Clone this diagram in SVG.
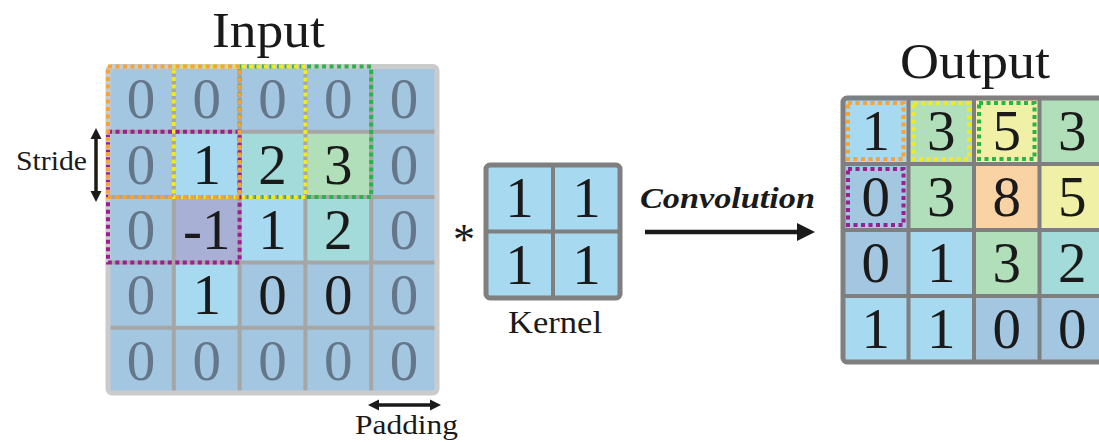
<svg xmlns="http://www.w3.org/2000/svg" width="1099" height="442" viewBox="0 0 1099 442">
  <style>
    .pad { fill: #a3c6e1; }
    .lb { fill: #a7d9f1; }
    .teal { fill: #a2dbd9; }
    .grn { fill: #b1dfba; }
    .lav { fill: #a8b0d5; }
    .yel { fill: #f0f0a6; }
    .org { fill: #f9d3a3; }
    .num { font-family: "Liberation Serif", "DejaVu Serif", serif; font-size: 57px; text-anchor: middle; fill: #1a1a1a; }
    .num.pz { fill: #647688; }
    .lbl { font-family: "Liberation Serif", "DejaVu Serif", serif; fill: #1a1a1a; }
    .in-grid { stroke: #a6a6a6; stroke-width: 4; fill: none; }
    .dark-grid { stroke: #7f7f7f; stroke-width: 4; fill: none; }
    .dot { fill: none; stroke-width: 4; stroke-dasharray: 4 3.5; }
    .d-org { stroke: #f7a338; }
    .d-yel { stroke: #f2e91e; }
    .d-grn { stroke: #2bb24c; }
    .d-pur { stroke: #9a1f8f; }
    .arrow { stroke: #1a1a1a; fill: none; }
  </style>
  <defs>
    <marker id="headSmall" viewBox="0 0 10 10" refX="0" refY="5" markerWidth="11" markerHeight="13" markerUnits="userSpaceOnUse" orient="auto-start-reverse">
      <path d="M0,0 L10,5 L0,10 z" fill="#1a1a1a"/>
    </marker>
    <marker id="headLarge" viewBox="0 0 10 10" refX="0" refY="5" markerWidth="18" markerHeight="20" markerUnits="userSpaceOnUse" orient="auto">
      <path d="M0,0 L10,5 L0,10 z" fill="#1a1a1a"/>
    </marker>
  </defs>

  <!-- Input matrix with zero padding -->
  <g id="input">
    <text class="lbl" x="212" y="47" font-size="50" textLength="113" lengthAdjust="spacingAndGlyphs">Input</text>
    <g id="input-cells">
      <rect class="pad" x="108" y="66.5" width="329" height="326.5"/>
      <rect class="lb" x="173.8" y="131.8" width="65.8" height="65.3"/>
      <rect class="teal" x="239.6" y="131.8" width="65.8" height="65.3"/>
      <rect class="grn" x="305.4" y="131.8" width="65.8" height="65.3"/>
      <rect class="lav" x="173.8" y="197.1" width="65.8" height="65.3"/>
      <rect class="lb" x="239.6" y="197.1" width="65.8" height="65.3"/>
      <rect class="teal" x="305.4" y="197.1" width="65.8" height="65.3"/>
      <rect class="lb" x="173.8" y="262.4" width="65.8" height="65.3"/>
    </g>
    <path class="in-grid" d="M173.8,66.5 V393 M239.6,66.5 V393 M305.4,66.5 V393 M371.2,66.5 V393 M108,131.8 H437 M108,197.1 H437 M108,262.4 H437 M108,327.7 H437"/>
    <rect x="108" y="66.5" width="329" height="326.5" rx="4" fill="none" stroke="#cbcbcb" stroke-width="5"/>
    <g id="input-values">
      <text class="num pz" x="140.9" y="118">0</text>
      <text class="num pz" x="206.7" y="118">0</text>
      <text class="num pz" x="272.5" y="118">0</text>
      <text class="num pz" x="338.3" y="118">0</text>
      <text class="num pz" x="404.1" y="118">0</text>

      <text class="num pz" x="140.9" y="183.5">0</text>
      <text class="num" x="206.7" y="183.5">1</text>
      <text class="num" x="272.5" y="183.5">2</text>
      <text class="num" x="338.3" y="183.5">3</text>
      <text class="num pz" x="404.1" y="183.5">0</text>

      <text class="num pz" x="140.9" y="249">0</text>
      <text class="num" x="206.7" y="249">-1</text>
      <text class="num" x="272.5" y="249">1</text>
      <text class="num" x="338.3" y="249">2</text>
      <text class="num pz" x="404.1" y="249">0</text>

      <text class="num pz" x="140.9" y="314">0</text>
      <text class="num" x="206.7" y="314">1</text>
      <text class="num" x="272.5" y="314">0</text>
      <text class="num" x="338.3" y="314">0</text>
      <text class="num pz" x="404.1" y="314">0</text>

      <text class="num pz" x="140.9" y="379.5">0</text>
      <text class="num pz" x="206.7" y="379.5">0</text>
      <text class="num pz" x="272.5" y="379.5">0</text>
      <text class="num pz" x="338.3" y="379.5">0</text>
      <text class="num pz" x="404.1" y="379.5">0</text>
    </g>
    <!-- receptive-field windows (2x2, stride 1) -->
    <rect class="dot d-grn" x="239.6" y="66.5" width="131.6" height="130.6"/>
    <rect class="dot d-yel" x="173.8" y="66.5" width="131.6" height="130.6"/>
    <rect class="dot d-pur" x="108" y="131.8" width="131.6" height="130.6"/>
    <rect class="dot d-org" x="108" y="66.5" width="131.6" height="130.6"/>
  </g>

  <!-- Kernel -->
  <g id="kernel">
    <text class="lbl" x="453" y="254" font-size="44">*</text>
    <rect class="lb" x="486" y="165" width="134" height="133" rx="4"/>
    <path class="dark-grid" d="M553,165 V298 M486,231.5 H620"/>
    <rect x="486" y="165" width="134" height="133" rx="4" fill="none" stroke="#7f7f7f" stroke-width="5"/>
    <text class="num" x="519.5" y="217">1</text>
    <text class="num" x="586.5" y="217">1</text>
    <text class="num" x="519.5" y="284">1</text>
    <text class="num" x="586.5" y="284">1</text>
    <text class="lbl" x="508" y="333" font-size="31" textLength="94" lengthAdjust="spacingAndGlyphs">Kernel</text>
  </g>

  <!-- Output feature map -->
  <g id="output">
    <text class="lbl" x="900" y="78" font-size="50" textLength="150" lengthAdjust="spacingAndGlyphs">Output</text>
    <g id="output-cells">
      <rect class="lb" x="843" y="98" width="65.5" height="66"/>
      <rect class="grn" x="908.5" y="98" width="65.5" height="66"/>
      <rect class="yel" x="974" y="98" width="65.5" height="66"/>
      <rect class="grn" x="1039.5" y="98" width="65.5" height="66"/>
      <rect class="pad" x="843" y="164" width="65.5" height="66"/>
      <rect class="grn" x="908.5" y="164" width="65.5" height="66"/>
      <rect class="org" x="974" y="164" width="65.5" height="66"/>
      <rect class="yel" x="1039.5" y="164" width="65.5" height="66"/>
      <rect class="pad" x="843" y="230" width="65.5" height="66"/>
      <rect class="lb" x="908.5" y="230" width="65.5" height="66"/>
      <rect class="grn" x="974" y="230" width="65.5" height="66"/>
      <rect class="teal" x="1039.5" y="230" width="65.5" height="66"/>
      <rect class="lb" x="843" y="296" width="65.5" height="66"/>
      <rect class="lb" x="908.5" y="296" width="65.5" height="66"/>
      <rect class="pad" x="974" y="296" width="65.5" height="66"/>
      <rect class="pad" x="1039.5" y="296" width="65.5" height="66"/>
    </g>
    <path class="dark-grid" d="M908.5,98 V362 M974,98 V362 M1039.5,98 V362 M843,164 H1105 M843,230 H1105 M843,296 H1105"/>
    <rect x="843" y="98" width="262" height="264" rx="4" fill="none" stroke="#7f7f7f" stroke-width="5"/>
    <g id="output-values">
      <text class="num" x="875.75" y="150">1</text>
      <text class="num" x="941.25" y="150">3</text>
      <text class="num" x="1006.75" y="150">5</text>
      <text class="num" x="1072.25" y="150">3</text>
      <text class="num" x="875.75" y="216">0</text>
      <text class="num" x="941.25" y="216">3</text>
      <text class="num" x="1006.75" y="216">8</text>
      <text class="num" x="1072.25" y="216">5</text>
      <text class="num" x="875.75" y="282">0</text>
      <text class="num" x="941.25" y="282">1</text>
      <text class="num" x="1006.75" y="282">3</text>
      <text class="num" x="1072.25" y="282">2</text>
      <text class="num" x="875.75" y="348">1</text>
      <text class="num" x="941.25" y="348">1</text>
      <text class="num" x="1006.75" y="348">0</text>
      <text class="num" x="1072.25" y="348">0</text>
    </g>
    <rect class="dot d-org" x="848" y="103" width="55.5" height="56"/>
    <rect class="dot d-yel" x="913.5" y="103" width="55.5" height="56"/>
    <rect class="dot d-grn" x="979" y="103" width="55.5" height="56"/>
    <rect class="dot d-pur" x="848" y="169" width="55.5" height="56"/>
  </g>

  <!-- Annotations -->
  <g id="labels">
    <text class="lbl" x="16" y="170" font-size="28" textLength="71" lengthAdjust="spacingAndGlyphs">Stride</text>
    <text class="lbl" x="355" y="434" font-size="28" textLength="103" lengthAdjust="spacingAndGlyphs">Padding</text>
    <text class="lbl" x="640" y="208" font-size="29" font-weight="bold" font-style="italic" textLength="175" lengthAdjust="spacingAndGlyphs">Convolution</text>
  </g>

  <!-- Connectors -->
  <g id="connectors">
    <line class="arrow" x1="96" y1="139" x2="96" y2="191" stroke-width="3.5" marker-start="url(#headSmall)" marker-end="url(#headSmall)"/>
    <line class="arrow" x1="379" y1="405" x2="430" y2="405" stroke-width="3.5" marker-start="url(#headSmall)" marker-end="url(#headSmall)"/>
    <line class="arrow" x1="645" y1="232" x2="797" y2="232" stroke-width="4.5" marker-end="url(#headLarge)"/>
  </g>
</svg>
